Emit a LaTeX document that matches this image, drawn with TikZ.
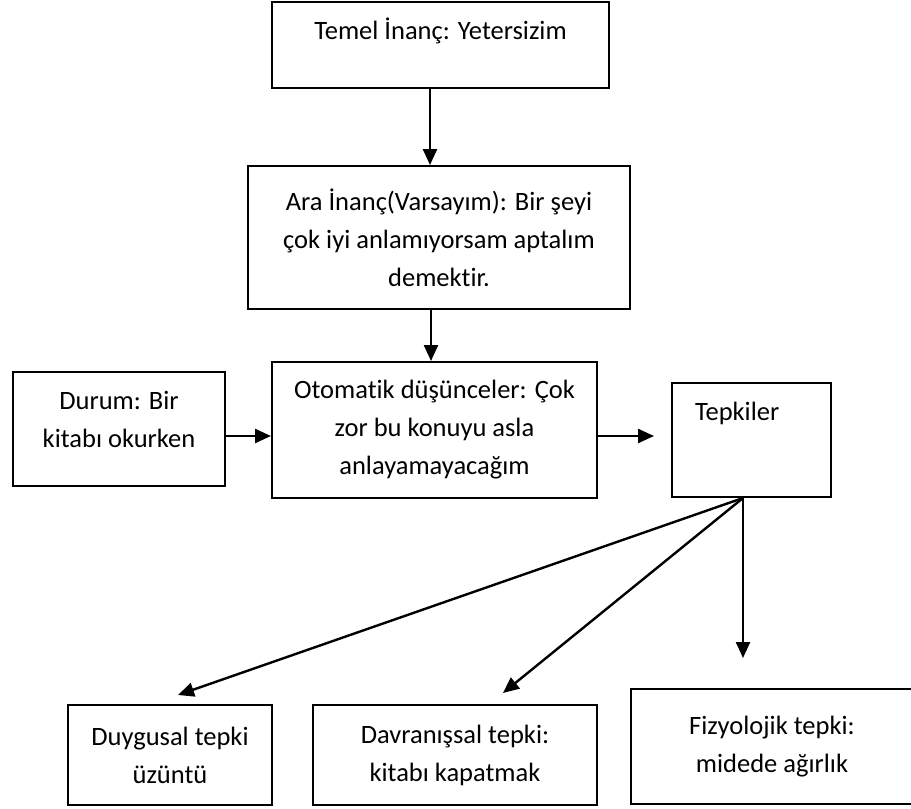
\documentclass[tikz,border=0pt]{standalone}
\usepackage{fontspec}
\setmainfont{Carlito}[Ligatures=NoCommon]
\usetikzlibrary{arrows.meta}
\tikzstyle{kutu} = [draw,line width=1pt,inner sep=0pt,align=center,font=\fontsize{13.25}{19}\selectfont]

\begin{document}
\begin{tikzpicture}[x=0.5pt,y=-0.5pt,
			>={Triangle[length=8pt,width=7pt]},
			ok/.style = {->,line width=1.2pt},
			ustte/.style = {text depth=#1}]
			\clip (0,0) rectangle (911,809);
			% ust kisim
			\node (temel)[kutu,minimum width=168.5pt,minimum height=43pt,ustte=16pt] at (440.5,45) {Temel İnanç: Yetersizim};
			\node (ara)[kutu,minimum width=191pt,minimum height=71.5pt] at (439,237.5) {Ara İnanç(Varsayım): Bir şeyi\\çok iyi anlamıyorsam aptalım\\demektir.};
			\node (oto)[kutu,minimum width=162.5pt,minimum height=68pt] at (434.5,430) {Otomatik düşünceler: Çok\\zor bu konuyu asla\\anlayamayacağım};
			\node (durum)[kutu,minimum width=106pt,minimum height=57pt,ustte=10pt] at (119,429) {Durum: Bir\\kitabı okurken};
			\node (tepki)[kutu,minimum width=79.5pt,minimum height=57pt,inner xsep=11.5pt,text width=56.5pt,align=left,ustte=29pt] at (751.5,440) {Tepkiler};
			% alt kisim
			\node (duygu)[kutu,minimum width=102pt,minimum height=50pt] at (170,755) {Duygusal tepki\\üzüntü};
			\node (davran)[kutu,minimum width=142pt,minimum height=50pt] at (455,755) {Davranışsal tepki:\\kitabı kapatmak};
			\node (fizyo)[kutu,minimum width=141pt,minimum height=57.5pt] at (772,746.5) {Fizyolojik tepki:\\midede ağırlık};
			\coordinate (ucD) at (178,695);
			\coordinate (ucV) at (503,693);
			\coordinate (ucF) at (743,658);
			\draw [ok] (temel.south -| 430,0) -- (ara.north -| 430,0);
			\draw [ok] (ara.south -| 431,0) -- (oto.north -| 431,0);
			\draw [ok] (durum.east |- 0,436) -- (oto.west |- 0,436);
			\draw [ok,shorten >=8.5pt] (oto.east |- 0,436) -- (tepki.west |- 0,436);
			\draw [ok] ([xshift=-4.25pt]tepki.south) -- (ucD);
			\draw [ok] ([xshift=-4.25pt]tepki.south) -- (ucV);
			\draw [ok] ([xshift=-4.25pt]tepki.south) -- (ucF);
		\end{tikzpicture}
\end{document}
